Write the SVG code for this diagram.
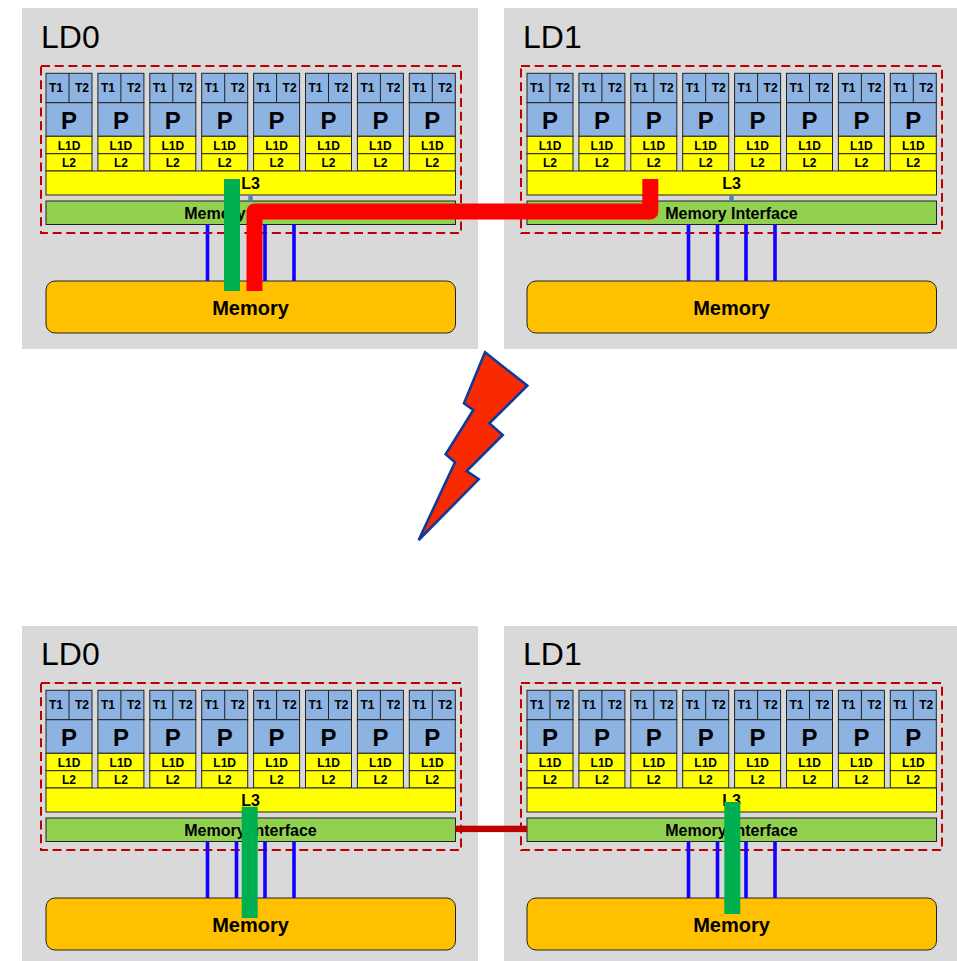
<svg xmlns="http://www.w3.org/2000/svg" width="957" height="961" viewBox="0 0 957 961">
<style>
text{font-family:"Liberation Sans",Arial,sans-serif;fill:#000;text-anchor:middle}
.panel{fill:#d9d9d9}
.dash{fill:none;stroke:#c00000;stroke-width:2;stroke-dasharray:9 4.7}
.b{fill:#8db3e2;stroke:#222;stroke-width:1}
.y{fill:#ffff00;stroke:#222;stroke-width:1}
.g{fill:#92d050;stroke:#222;stroke-width:1}
.o{fill:#ffc000;stroke:#222;stroke-width:1}
.ld{font-size:32px;text-anchor:start}
.t{font-size:12px;font-weight:bold}
.p{font-size:24px;font-weight:bold}
.l1{font-size:12px;font-weight:bold}
.l2{font-size:12px;font-weight:bold}
.l3{font-size:16px;font-weight:bold}
.mi{font-size:16px;font-weight:bold}
.m{font-size:20px;font-weight:bold}
.bus{stroke:#1400ff;stroke-width:3.6;fill:none}
.link{stroke:#4f81bd;stroke-width:4.4;fill:none}
.gbar{fill:#00b050}
</style>
<defs>
<g id="coreshape">
<rect class="b" x="0" y="0.3" width="46" height="29.4"/>
<line x1="23" y1="0" x2="23" y2="29.7" stroke="#222"/>
<rect class="b" x="0" y="29.7" width="46" height="33.6"/>
<rect class="y" x="0" y="63.3" width="46" height="17.4"/>
<rect class="y" x="0" y="80.7" width="46" height="17.3"/>
</g>
</defs>

<rect class="panel" x="22" y="8" width="456" height="341"/>
<rect class="panel" x="504" y="8" width="453" height="341"/>
<rect class="panel" x="22" y="626" width="456" height="335"/>
<rect class="panel" x="504" y="626" width="453" height="335"/>

<g id="ld0-top">
<text class="ld" x="41" y="47.5">LD0</text>
<rect class="dash" x="41" y="66" width="420" height="167"/>
<g transform="translate(46,73)"><use href="#coreshape"/><text class="t" x="10" y="19">T1</text><text class="t" x="36" y="19">T2</text><text class="p" x="23" y="56">P</text><text class="l1" x="23" y="77">L1D</text><text class="l2" x="23" y="93.7">L2</text></g>
<g transform="translate(97.9,73)"><use href="#coreshape"/><text class="t" x="10" y="19">T1</text><text class="t" x="36" y="19">T2</text><text class="p" x="23" y="56">P</text><text class="l1" x="23" y="77">L1D</text><text class="l2" x="23" y="93.7">L2</text></g>
<g transform="translate(149.8,73)"><use href="#coreshape"/><text class="t" x="10" y="19">T1</text><text class="t" x="36" y="19">T2</text><text class="p" x="23" y="56">P</text><text class="l1" x="23" y="77">L1D</text><text class="l2" x="23" y="93.7">L2</text></g>
<g transform="translate(201.7,73)"><use href="#coreshape"/><text class="t" x="10" y="19">T1</text><text class="t" x="36" y="19">T2</text><text class="p" x="23" y="56">P</text><text class="l1" x="23" y="77">L1D</text><text class="l2" x="23" y="93.7">L2</text></g>
<g transform="translate(253.6,73)"><use href="#coreshape"/><text class="t" x="10" y="19">T1</text><text class="t" x="36" y="19">T2</text><text class="p" x="23" y="56">P</text><text class="l1" x="23" y="77">L1D</text><text class="l2" x="23" y="93.7">L2</text></g>
<g transform="translate(305.5,73)"><use href="#coreshape"/><text class="t" x="10" y="19">T1</text><text class="t" x="36" y="19">T2</text><text class="p" x="23" y="56">P</text><text class="l1" x="23" y="77">L1D</text><text class="l2" x="23" y="93.7">L2</text></g>
<g transform="translate(357.4,73)"><use href="#coreshape"/><text class="t" x="10" y="19">T1</text><text class="t" x="36" y="19">T2</text><text class="p" x="23" y="56">P</text><text class="l1" x="23" y="77">L1D</text><text class="l2" x="23" y="93.7">L2</text></g>
<g transform="translate(409.3,73)"><use href="#coreshape"/><text class="t" x="10" y="19">T1</text><text class="t" x="36" y="19">T2</text><text class="p" x="23" y="56">P</text><text class="l1" x="23" y="77">L1D</text><text class="l2" x="23" y="93.7">L2</text></g>
<rect class="y" x="46" y="171" width="409.5" height="24"/><text class="l3" x="250.5" y="188.7">L3</text>
<rect class="g" x="46" y="201" width="409.5" height="23.5"/><text class="mi" x="250.5" y="218.5">Memory Interface</text>
<rect class="o" x="46" y="281" width="409.5" height="52" rx="9"/><text class="m" x="250.5" y="315">Memory</text>
</g>

<g id="ld1-top">
<text class="ld" x="523" y="47.5">LD1</text>
<rect class="dash" x="521" y="66" width="421" height="167"/>
<g transform="translate(527,73)"><use href="#coreshape"/><text class="t" x="10" y="19">T1</text><text class="t" x="36" y="19">T2</text><text class="p" x="23" y="56">P</text><text class="l1" x="23" y="77">L1D</text><text class="l2" x="23" y="93.7">L2</text></g>
<g transform="translate(578.9,73)"><use href="#coreshape"/><text class="t" x="10" y="19">T1</text><text class="t" x="36" y="19">T2</text><text class="p" x="23" y="56">P</text><text class="l1" x="23" y="77">L1D</text><text class="l2" x="23" y="93.7">L2</text></g>
<g transform="translate(630.8,73)"><use href="#coreshape"/><text class="t" x="10" y="19">T1</text><text class="t" x="36" y="19">T2</text><text class="p" x="23" y="56">P</text><text class="l1" x="23" y="77">L1D</text><text class="l2" x="23" y="93.7">L2</text></g>
<g transform="translate(682.7,73)"><use href="#coreshape"/><text class="t" x="10" y="19">T1</text><text class="t" x="36" y="19">T2</text><text class="p" x="23" y="56">P</text><text class="l1" x="23" y="77">L1D</text><text class="l2" x="23" y="93.7">L2</text></g>
<g transform="translate(734.6,73)"><use href="#coreshape"/><text class="t" x="10" y="19">T1</text><text class="t" x="36" y="19">T2</text><text class="p" x="23" y="56">P</text><text class="l1" x="23" y="77">L1D</text><text class="l2" x="23" y="93.7">L2</text></g>
<g transform="translate(786.5,73)"><use href="#coreshape"/><text class="t" x="10" y="19">T1</text><text class="t" x="36" y="19">T2</text><text class="p" x="23" y="56">P</text><text class="l1" x="23" y="77">L1D</text><text class="l2" x="23" y="93.7">L2</text></g>
<g transform="translate(838.4,73)"><use href="#coreshape"/><text class="t" x="10" y="19">T1</text><text class="t" x="36" y="19">T2</text><text class="p" x="23" y="56">P</text><text class="l1" x="23" y="77">L1D</text><text class="l2" x="23" y="93.7">L2</text></g>
<g transform="translate(890.3,73)"><use href="#coreshape"/><text class="t" x="10" y="19">T1</text><text class="t" x="36" y="19">T2</text><text class="p" x="23" y="56">P</text><text class="l1" x="23" y="77">L1D</text><text class="l2" x="23" y="93.7">L2</text></g>
<rect class="y" x="527" y="171" width="409.5" height="24"/><text class="l3" x="731.5" y="188.7">L3</text>
<rect class="g" x="527" y="201" width="409.5" height="23.5"/><text class="mi" x="731.5" y="218.5">Memory Interface</text>
<rect class="o" x="527" y="281" width="409.5" height="52" rx="9"/><text class="m" x="731.5" y="315">Memory</text>
</g>

<g id="ld0-bottom">
<text class="ld" x="41" y="664.5">LD0</text>
<rect class="dash" x="41" y="683" width="420" height="167"/>
<g transform="translate(46,690)"><use href="#coreshape"/><text class="t" x="10" y="19">T1</text><text class="t" x="36" y="19">T2</text><text class="p" x="23" y="56">P</text><text class="l1" x="23" y="77">L1D</text><text class="l2" x="23" y="93.7">L2</text></g>
<g transform="translate(97.9,690)"><use href="#coreshape"/><text class="t" x="10" y="19">T1</text><text class="t" x="36" y="19">T2</text><text class="p" x="23" y="56">P</text><text class="l1" x="23" y="77">L1D</text><text class="l2" x="23" y="93.7">L2</text></g>
<g transform="translate(149.8,690)"><use href="#coreshape"/><text class="t" x="10" y="19">T1</text><text class="t" x="36" y="19">T2</text><text class="p" x="23" y="56">P</text><text class="l1" x="23" y="77">L1D</text><text class="l2" x="23" y="93.7">L2</text></g>
<g transform="translate(201.7,690)"><use href="#coreshape"/><text class="t" x="10" y="19">T1</text><text class="t" x="36" y="19">T2</text><text class="p" x="23" y="56">P</text><text class="l1" x="23" y="77">L1D</text><text class="l2" x="23" y="93.7">L2</text></g>
<g transform="translate(253.6,690)"><use href="#coreshape"/><text class="t" x="10" y="19">T1</text><text class="t" x="36" y="19">T2</text><text class="p" x="23" y="56">P</text><text class="l1" x="23" y="77">L1D</text><text class="l2" x="23" y="93.7">L2</text></g>
<g transform="translate(305.5,690)"><use href="#coreshape"/><text class="t" x="10" y="19">T1</text><text class="t" x="36" y="19">T2</text><text class="p" x="23" y="56">P</text><text class="l1" x="23" y="77">L1D</text><text class="l2" x="23" y="93.7">L2</text></g>
<g transform="translate(357.4,690)"><use href="#coreshape"/><text class="t" x="10" y="19">T1</text><text class="t" x="36" y="19">T2</text><text class="p" x="23" y="56">P</text><text class="l1" x="23" y="77">L1D</text><text class="l2" x="23" y="93.7">L2</text></g>
<g transform="translate(409.3,690)"><use href="#coreshape"/><text class="t" x="10" y="19">T1</text><text class="t" x="36" y="19">T2</text><text class="p" x="23" y="56">P</text><text class="l1" x="23" y="77">L1D</text><text class="l2" x="23" y="93.7">L2</text></g>
<rect class="y" x="46" y="788" width="409.5" height="24"/><text class="l3" x="250.5" y="805.7">L3</text>
<rect class="g" x="46" y="818" width="409.5" height="23.5"/><text class="mi" x="250.5" y="835.5">Memory Interface</text>
<rect class="o" x="46" y="898" width="409.5" height="52" rx="9"/><text class="m" x="250.5" y="932">Memory</text>
</g>

<g id="ld1-bottom">
<text class="ld" x="523" y="664.5">LD1</text>
<rect class="dash" x="521" y="683" width="421" height="167"/>
<g transform="translate(527,690)"><use href="#coreshape"/><text class="t" x="10" y="19">T1</text><text class="t" x="36" y="19">T2</text><text class="p" x="23" y="56">P</text><text class="l1" x="23" y="77">L1D</text><text class="l2" x="23" y="93.7">L2</text></g>
<g transform="translate(578.9,690)"><use href="#coreshape"/><text class="t" x="10" y="19">T1</text><text class="t" x="36" y="19">T2</text><text class="p" x="23" y="56">P</text><text class="l1" x="23" y="77">L1D</text><text class="l2" x="23" y="93.7">L2</text></g>
<g transform="translate(630.8,690)"><use href="#coreshape"/><text class="t" x="10" y="19">T1</text><text class="t" x="36" y="19">T2</text><text class="p" x="23" y="56">P</text><text class="l1" x="23" y="77">L1D</text><text class="l2" x="23" y="93.7">L2</text></g>
<g transform="translate(682.7,690)"><use href="#coreshape"/><text class="t" x="10" y="19">T1</text><text class="t" x="36" y="19">T2</text><text class="p" x="23" y="56">P</text><text class="l1" x="23" y="77">L1D</text><text class="l2" x="23" y="93.7">L2</text></g>
<g transform="translate(734.6,690)"><use href="#coreshape"/><text class="t" x="10" y="19">T1</text><text class="t" x="36" y="19">T2</text><text class="p" x="23" y="56">P</text><text class="l1" x="23" y="77">L1D</text><text class="l2" x="23" y="93.7">L2</text></g>
<g transform="translate(786.5,690)"><use href="#coreshape"/><text class="t" x="10" y="19">T1</text><text class="t" x="36" y="19">T2</text><text class="p" x="23" y="56">P</text><text class="l1" x="23" y="77">L1D</text><text class="l2" x="23" y="93.7">L2</text></g>
<g transform="translate(838.4,690)"><use href="#coreshape"/><text class="t" x="10" y="19">T1</text><text class="t" x="36" y="19">T2</text><text class="p" x="23" y="56">P</text><text class="l1" x="23" y="77">L1D</text><text class="l2" x="23" y="93.7">L2</text></g>
<g transform="translate(890.3,690)"><use href="#coreshape"/><text class="t" x="10" y="19">T1</text><text class="t" x="36" y="19">T2</text><text class="p" x="23" y="56">P</text><text class="l1" x="23" y="77">L1D</text><text class="l2" x="23" y="93.7">L2</text></g>
<rect class="y" x="527" y="788" width="409.5" height="24"/><text class="l3" x="731.5" y="805.7">L3</text>
<rect class="g" x="527" y="818" width="409.5" height="23.5"/><text class="mi" x="731.5" y="835.5">Memory Interface</text>
<rect class="o" x="527" y="898" width="409.5" height="52" rx="9"/><text class="m" x="731.5" y="932">Memory</text>
</g>

<g id="lightning">
<polygon points="485,352.3 527.3,385.7 489.3,423.3 502.7,435 466.7,471 478.7,479.3 418.7,540 455,462.3 445.7,454.3 473.3,410 464,403.3" fill="#fa2a00" stroke="#0f3a9b" stroke-width="2.6"/>
</g>

<g id="connectors">
<path class="link" d="M250.5 195V201M731.5 195V201M250.5 812V818M731.5 812V818"/>
<path class="bus" d="M207.5 224.5V281M236.5 224.5V281M265 224.5V281M294 224.5V281M688.5 224.5V281M717.5 224.5V281M746 224.5V281M775 224.5V281M207.5 841.5V898M236.5 841.5V898M265 841.5V898M294 841.5V898M688.5 841.5V898M717.5 841.5V898M746 841.5V898M775 841.5V898"/>
<rect class="gbar" x="224" y="179" width="16" height="112"/>
<path d="M254.5 291V211.5H650.3V179" fill="none" stroke="#ff0000" stroke-width="16" stroke-linejoin="round"/>
<rect x="455.5" y="825.7" width="71.5" height="6.4" fill="#c00000"/>
<rect class="gbar" x="241.7" y="806.7" width="16" height="111.3"/>
<rect class="gbar" x="724.3" y="802" width="16" height="112"/>
</g>
</svg>
